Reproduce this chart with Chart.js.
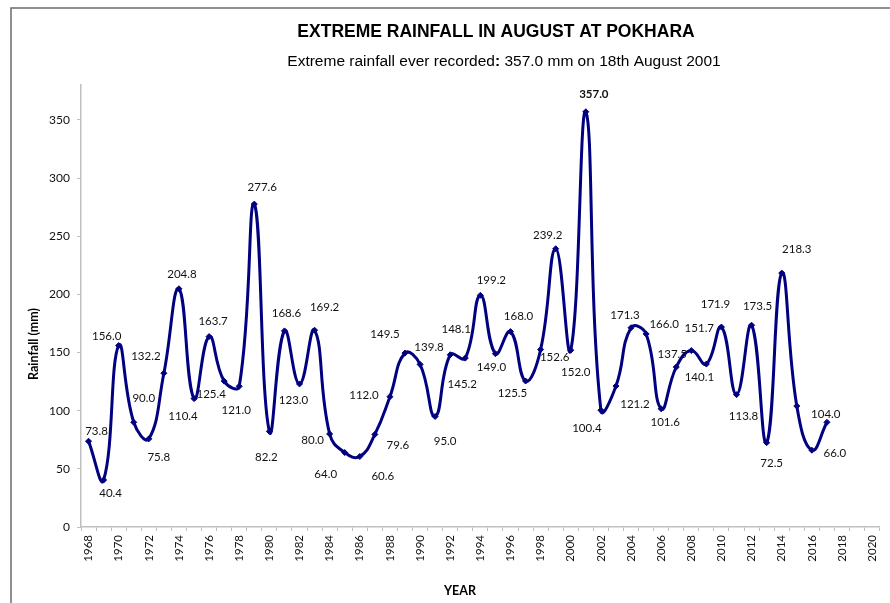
<!DOCTYPE html>
<html>
<head>
<meta charset="utf-8">
<title>Extreme rainfall in August at Pokhara</title>
<script src="https://cdn.jsdelivr.net/npm/chart.js@4"></script>
<style>
  html, body { margin: 0; padding: 0; background: #fff; }
  canvas { display: block; }
</style>
</head>
<body>
<canvas id="chart" width="890" height="603"></canvas>
<script>
"use strict";

// x axis categories (the axis runs on to 2020, data stops at 2017)
const YEARS = [];
for (let y = 1968; y <= 2020; y++) YEARS.push(String(y));

// August extreme rainfall (mm), 1968 → 2017
const RAINFALL = [
  73.8, 40.4, 156.0, 90.0, 75.8, 132.2, 204.8, 110.4, 163.7, 125.4,
  121.0, 277.6, 82.2, 168.6, 123.0, 169.2, 80.0, 64.0, 60.6, 79.6,
  112.0, 149.5, 139.8, 95.0, 148.1, 145.2, 199.2, 149.0, 168.0, 125.5,
  152.6, 239.2, 152.0, 357.0, 100.4, 121.2, 171.3, 166.0, 101.6, 137.5,
  151.7, 140.1, 171.9, 113.8, 173.5, 72.5, 218.3, 104.0, 66.0, 90.0,
];

const Y_TICKS = [0, 50, 100, 150, 200, 250, 300, 350];

// hand-placed data label offsets [dx, dy] from each point (null = no label)
const LABEL_OFFSETS = [
  [8, -10], [7, 13], [-12, -9], [10, -24], [10, 18], [-18, -17], [3, -14], [-11, 18], [4, -15], [-13, 13],
  [-3, 24], [8, -17], [-3, 26], [2, -18], [-6, 16], [10, -23], [-17, 6], [-19, 22], [23, 20], [23, 11],
  [-26, -1], [-20, -19], [9, -17], [10, 25], [6, -25], [-3, 26], [11, -15], [-4, 14], [8, -15], [-13, 12],
  [14, 8], [-8, -13], [5, 22], [8, -17], [-14, 18], [19, 18], [-6, -12], [18, -10], [4, 13], [-4, -13],
  [8, -22], [-7, 13], [-6, -23], [7, 22], [6, -19], [5, 21], [15, -24], [29, 8], [23, 3], null,
];

const NAVY = "#000080";
const LABEL_FONT = "Lato, 'Open Sans', sans-serif";
const ARIAL = " 'Liberation Sans', Arial, sans-serif";

const dataLabels = {
  id: "dataLabels",
  afterDatasetsDraw(chart) {
    const { ctx } = chart;
    const meta = chart.getDatasetMeta(0);
    const max = Math.max(...RAINFALL);
    ctx.save();
    ctx.fillStyle = "#111";
    ctx.textAlign = "center";
    ctx.textBaseline = "middle";
    meta.data.forEach((pt, i) => {
      const off = LABEL_OFFSETS[i];
      if (!off) return;
      const v = RAINFALL[i];
      ctx.font = (v === max ? "bold " : "") + "11.5px " + LABEL_FONT;
      ctx.fillText(v.toFixed(1), pt.x + off[0], pt.y + off[1]);
    });
    ctx.restore();
  },
};

const decor = {
  id: "decor",
  afterDraw(chart) {
    const { ctx } = chart;
    ctx.save();
    // outer frame
    ctx.strokeStyle = "#6b6b6b";
    ctx.lineWidth = 1.5;
    ctx.strokeRect(11, 8, 900, 700);

    ctx.fillStyle = "#000";
    ctx.textBaseline = "middle";
    ctx.textAlign = "center";
    ctx.font = "bold 17.5px" + ARIAL;
    ctx.fillText("EXTREME RAINFALL IN AUGUST AT POKHARA", 496, 32);

    // subtitle, with the bold colon
    const parts = [
      ["Extreme rainfall ever recorded", "15.5px"],
      [":", "bold 15.5px"],
      [" 357.0 mm on 18th August 2001", "15.5px"],
    ];
    let total = 0;
    parts.forEach(p => { ctx.font = p[1] + ARIAL; total += ctx.measureText(p[0]).width; });
    let x = 504 - total / 2;
    ctx.textAlign = "left";
    parts.forEach(p => {
      ctx.font = p[1] + ARIAL;
      ctx.fillText(p[0], x, 62);
      x += ctx.measureText(p[0]).width;
    });

    // axis titles
    ctx.textAlign = "center";
    ctx.font = "bold 12.5px " + LABEL_FONT;
    ctx.fillText("YEAR", 460, 591);
    ctx.translate(34, 344);
    ctx.rotate(-Math.PI / 2);
    ctx.fillText("Rainfall (mm)", 0, 0);
    ctx.restore();
  },
};

new Chart(document.getElementById("chart"), {
  type: "line",
  data: {
    labels: YEARS,
    datasets: [{
      label: "Rainfall",
      data: RAINFALL,
      borderColor: NAVY,
      backgroundColor: NAVY,
      borderWidth: 3,
      tension: 0.45,
      pointStyle: "rectRot",
      pointRadius: 3,
      pointBorderWidth: 1,
      fill: false,
    }],
  },
  options: {
    responsive: false,
    animation: false,
    devicePixelRatio: 1,
    layout: { padding: { top: 85, right: 3, left: 0, bottom: 0 } },
    plugins: {
      legend: { display: false },
      tooltip: { enabled: false },
      title: { display: false },
    },
    scales: {
      x: {
        type: "category",
        offset: true,
        afterFit: (s) => { s.height = 76; },
        grid: {
          offset: true,
          drawOnChartArea: false,
          drawTicks: true,
          tickLength: 4,
          color: "#bfbfbf",
        },
        border: { display: true, color: "#bfbfbf", width: 1.5 },
        ticks: {
          autoSkip: false,
          maxRotation: 90,
          minRotation: 90,
          padding: 4,
          color: "#111",
          font: { family: LABEL_FONT, size: 11.5 },
          callback: (val, i) => (Number(YEARS[i]) % 2 === 0 ? YEARS[i] : ""),
        },
      },
      y: {
        min: 0,
        max: 380,
        afterFit: (s) => { s.width = 81; },
        afterBuildTicks: (s) => { s.ticks = Y_TICKS.map(v => ({ value: v })); },
        grid: {
          drawOnChartArea: false,
          drawTicks: true,
          tickLength: 4,
          color: "#bfbfbf",
        },
        border: { display: true, color: "#bfbfbf", width: 1.5 },
        ticks: {
          padding: 7,
          color: "#111",
          font: { family: LABEL_FONT, size: 12 },
        },
      },
    },
  },
  plugins: [dataLabels, decor],
});
</script>
</body>
</html>
